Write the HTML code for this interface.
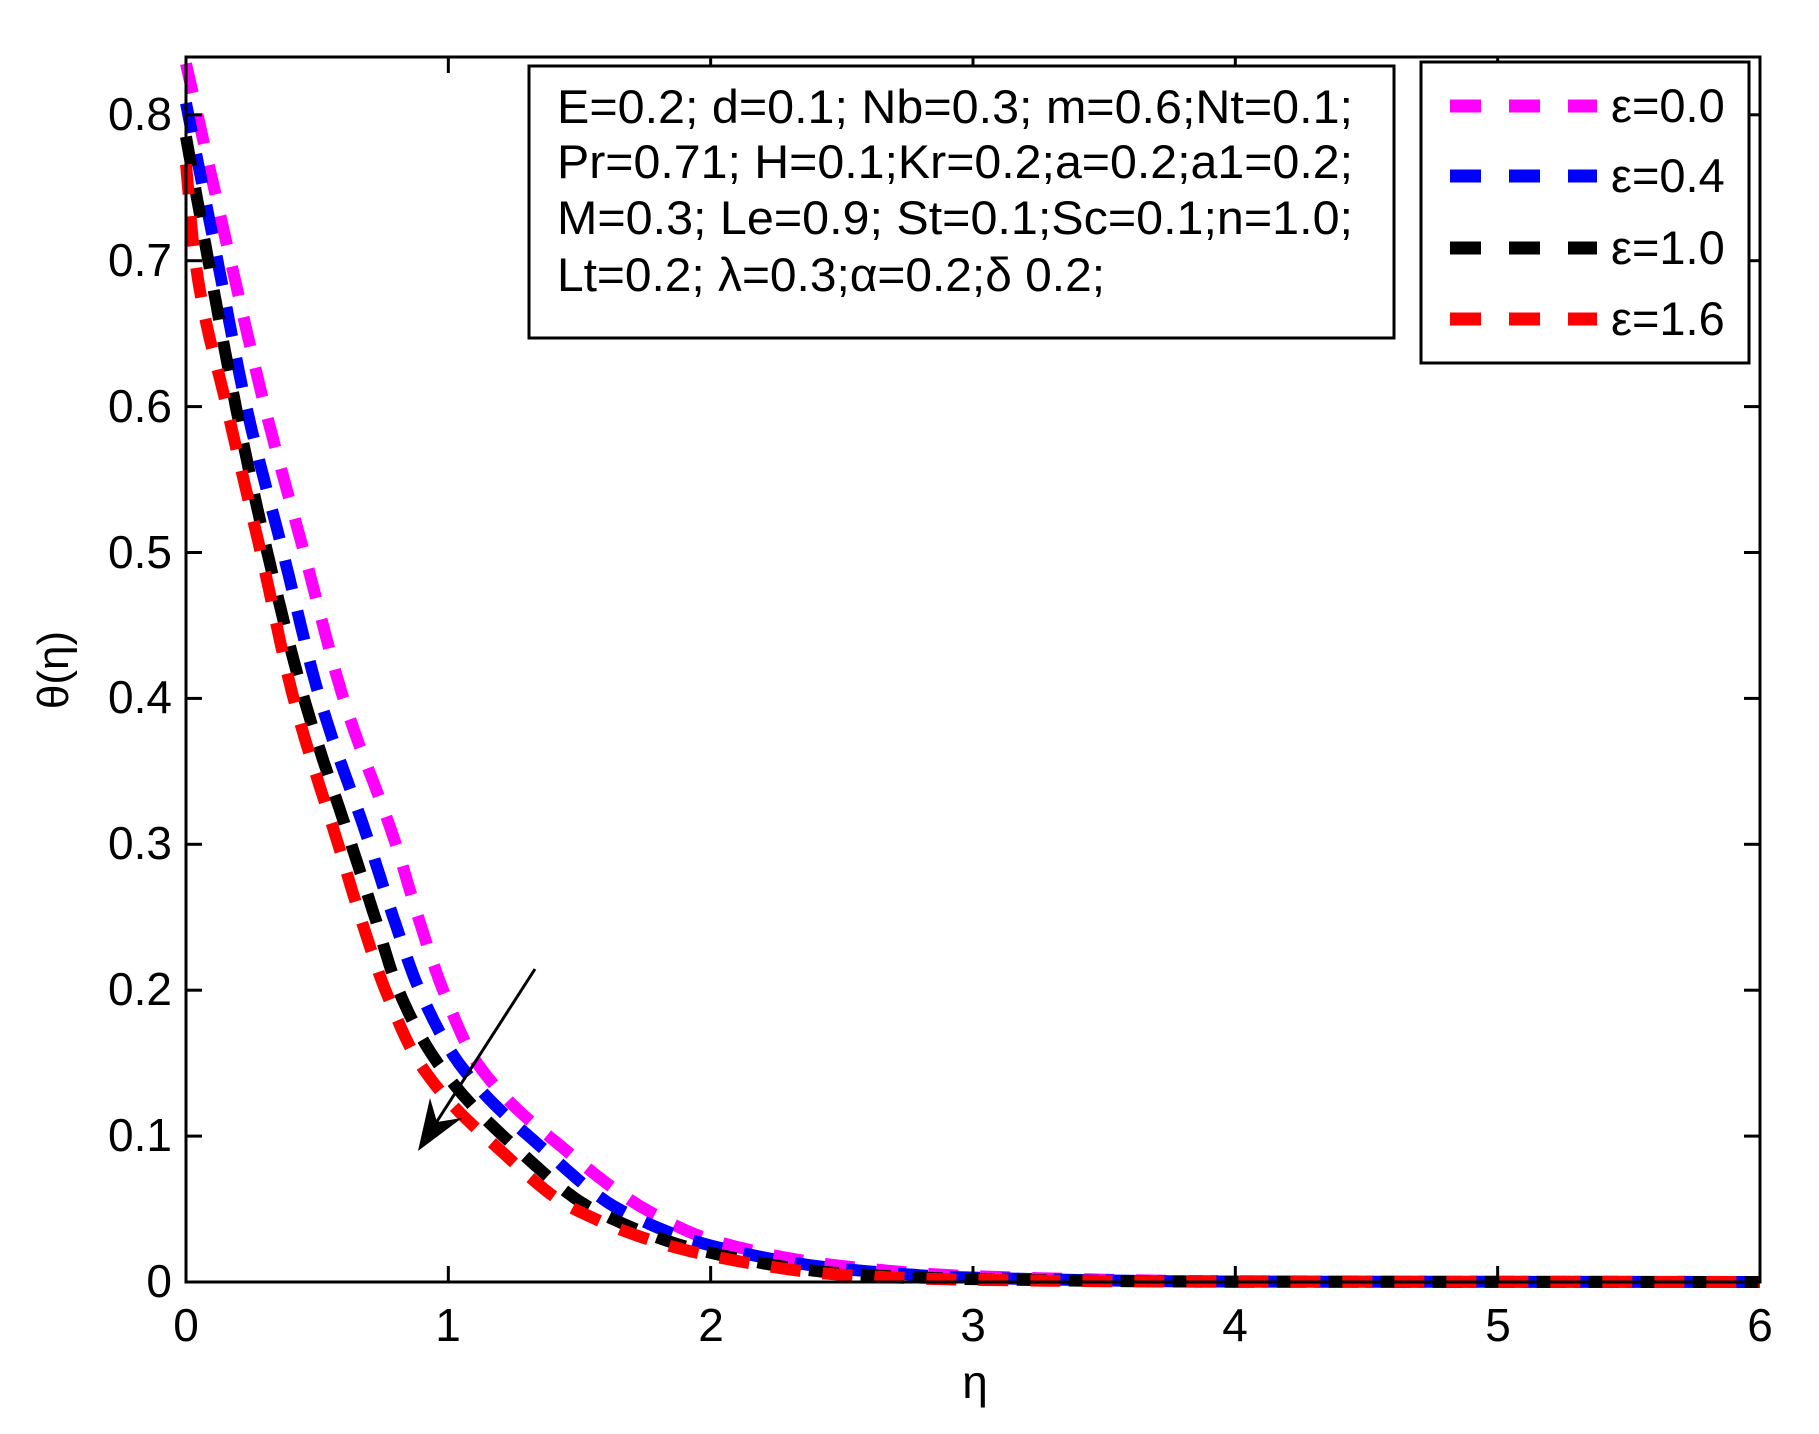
<!DOCTYPE html>
<html><head><meta charset="utf-8"><style>
html,body{margin:0;padding:0;background:#fff;}
svg{display:block;}
text{font-family:"Liberation Sans",Arial,sans-serif;fill:#000;}
</style></head><body>
<svg id="s" width="1819" height="1434" viewBox="0 0 1819 1434" xmlns="http://www.w3.org/2000/svg">
<rect width="1819" height="1434" fill="#fff"/>
<g id="curves" fill="none" stroke-width="12" stroke-dasharray="30 22"></g>
<g id="ticks" stroke="#000" stroke-width="3"></g>
<rect x="186" y="57" width="1574" height="1225" fill="none" stroke="#000" stroke-width="3"/>
<g font-size="46" text-anchor="end">
<text x="172" y="1297">0</text>
<text x="172" y="1151">0.1</text>
<text x="172" y="1005">0.2</text>
<text x="172" y="859">0.3</text>
<text x="172" y="713">0.4</text>
<text x="172" y="568">0.5</text>
<text x="172" y="422">0.6</text>
<text x="172" y="276">0.7</text>
<text x="172" y="130">0.8</text>
</g>
<g font-size="46" text-anchor="middle">
<text x="186" y="1341">0</text>
<text x="448" y="1341">1</text>
<text x="711" y="1341">2</text>
<text x="973" y="1341">3</text>
<text x="1235" y="1341">4</text>
<text x="1498" y="1341">5</text>
<text x="1760" y="1341">6</text>
</g>
<text x="975" y="1398" font-size="46" text-anchor="middle">η</text>
<text transform="translate(68,670) rotate(-90)" font-size="44" text-anchor="middle">θ(η)</text>
<line x1="535" y1="969" x2="425" y2="1140" stroke="#000" stroke-width="3"/>
<polygon points="418,1151 430,1098 437,1122 462,1118" fill="#000"/>
<rect x="529" y="66" width="865" height="272" fill="#fff" stroke="#000" stroke-width="3"/>
<g font-size="47">
<text x="557" y="123" textLength="796" lengthAdjust="spacingAndGlyphs">E=0.2; d=0.1; Nb=0.3; m=0.6;Nt=0.1;</text>
<text x="557" y="178" textLength="796" lengthAdjust="spacingAndGlyphs">Pr=0.71; H=0.1;Kr=0.2;a=0.2;a1=0.2;</text>
<text x="557" y="234" textLength="796" lengthAdjust="spacingAndGlyphs">M=0.3; Le=0.9; St=0.1;Sc=0.1;n=1.0;</text>
<text x="557" y="291" textLength="548" lengthAdjust="spacingAndGlyphs">Lt=0.2; λ=0.3;α=0.2;δ 0.2;</text>
</g>
<rect x="1421" y="62" width="328" height="301" fill="#fff" stroke="#000" stroke-width="3"/>
<g stroke-width="13">
<line x1="1450" y1="106" x2="1597" y2="106" stroke="#ff00ff" stroke-dasharray="31 28"/>
<line x1="1450" y1="176" x2="1597" y2="176" stroke="#0000ff" stroke-dasharray="31 28"/>
<line x1="1450" y1="248" x2="1597" y2="248" stroke="#000" stroke-dasharray="31 28"/>
<line x1="1450" y1="319" x2="1597" y2="319" stroke="#ff0000" stroke-dasharray="31 28"/>
</g>
<g font-size="47">
<text x="1611" y="122">ε=0.0</text>
<text x="1611" y="192">ε=0.4</text>
<text x="1611" y="264">ε=1.0</text>
<text x="1611" y="335">ε=1.6</text>
</g>
</svg>
<script>
(function(){
var X=function(e){return 186+e*262.33;}, Y=function(t){return 1282-t*1459;};
var ns="http://www.w3.org/2000/svg";
var tk=document.getElementById('ticks');
function L(a,b,c,d){var l=document.createElementNS(ns,'line');l.setAttribute('x1',a);l.setAttribute('y1',b);l.setAttribute('x2',c);l.setAttribute('y2',d);tk.appendChild(l);}
for(var i=1;i<6;i++){var x=X(i);L(x,1282,x,1266);L(x,57,x,73);}
for(var j=1;j<=8;j++){var y=Y(j/10);L(186,y,202,y);L(1760,y,1744,y);}
var data=[
["#ff00ff",[[0,.835],[0.17,.7],[0.30,.6],[0.45,.5],[0.6,.4],[0.80,.3],[0.885,.25],[0.98,.2],[1.11,.15],[1.45,.09],[1.75,.05],[2,.029],[2.5,.011],[3,.004],[4,.0005],[6,0]]],
["#0000ff",[[0,.808],[0.12,.7],[0.23,.6],[0.37,.5],[0.51,.4],[0.70,.3],[0.79,.25],[0.89,.2],[1.04,.15],[1.37,.09],[1.65,.05],[2,.025],[2.5,.009],[3,.003],[4,.0003],[6,0]]],
["#000000",[[0,.785],[0.085,.7],[0.19,.6],[0.31,.5],[0.45,.4],[0.63,.3],[0.72,.25],[0.81,.2],[0.96,.15],[1.27,.09],[1.55,.05],[2,.02],[2.5,.006],[3,.002],[4,.0002],[6,0]]],
["#ff0000",[[0,.766],[0.035,.7],[0.155,.6],[0.285,.5],[0.41,.4],[0.58,.3],[0.665,.25],[0.76,.2],[0.89,.15],[1.2,.09],[1.48,.05],[2,.018],[2.5,.005],[3,.0015],[4,.0002],[6,0]]]
];
var g=document.getElementById('curves');
data.forEach(function(d){
 var p=d[1],n=p.length,m=[],dl=[];
 for(var k=0;k<n-1;k++)dl.push((p[k+1][1]-p[k][1])/(p[k+1][0]-p[k][0]));
 m[0]=dl[0];m[n-1]=dl[n-2];
 for(k=1;k<n-1;k++){ if(dl[k-1]*dl[k]<=0)m[k]=0; else {var h0=p[k][0]-p[k-1][0],h1=p[k+1][0]-p[k][0];var w1=2*h1+h0,w2=h1+2*h0;m[k]=(w1+w2)/(w1/dl[k-1]+w2/dl[k]);} }
 var s="";
 for(k=0;k<n-1;k++){var x0=p[k][0],x1=p[k+1][0],h=x1-x0;
  for(var q=0;q<20;q++){var t=q/20,t2=t*t,t3=t2*t;
   var v=(2*t3-3*t2+1)*p[k][1]+(t3-2*t2+t)*h*m[k]+(-2*t3+3*t2)*p[k+1][1]+(t3-t2)*h*m[k+1];
   s+=(s?"L":"M")+X(x0+t*h).toFixed(1)+","+Y(v).toFixed(1);}}
 s+="L"+X(6)+","+Y(0);
 var path=document.createElementNS(ns,'path');path.setAttribute('d',s);path.setAttribute('stroke',d[0]);g.appendChild(path);
});
})();
</script>
</body></html>
